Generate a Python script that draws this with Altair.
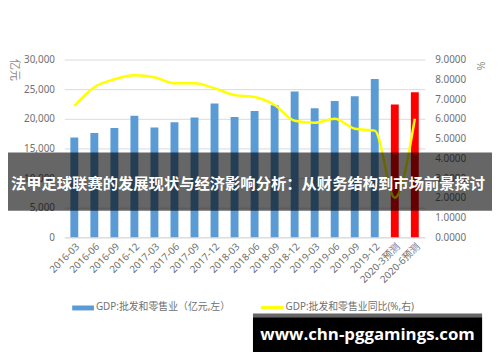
import altair as alt
import pandas as pd

periods = ["2016-03", "2016-06", "2016-09", "2016-12", "2017-03", "2017-06",
           "2017-09", "2017-12", "2018-03", "2018-06", "2018-09", "2018-12",
           "2019-03", "2019-06", "2019-09", "2019-12", "2020-3预测", "2020-6预测"]
gdp_values = [16850, 17600, 18450, 20500, 18550, 19400, 20200, 22600, 20300,
              21300, 22300, 24600, 21800, 23000, 23800, 26700, 22400, 24500]
kinds = ["实际"] * 16 + ["预测"] * 2
yoy_values = [6.65, 7.6, 8.0, 8.2, 8.1, 7.8, 7.8, 7.55, 7.2, 7.1, 6.7, 5.9,
              5.8, 6.0, 5.5, 5.4, 2.0, 6.0]

legend_bar = "GDP:批发和零售业（亿元,左）"
legend_line = "GDP:批发和零售业同比(%,右)"
title_text = "法甲足球联赛的发展现状与经济影响分析：从财务结构到市场前景探讨"
watermark = "www.chn-pggamings.com"

df = pd.DataFrame({"period": periods, "gdp": gdp_values, "kind": kinds, "yoy": yoy_values})
one = pd.DataFrame({"a": [0]})

FONT = "Noto Sans, Noto Sans CJK SC, sans-serif"
GRAY = "#707070"

xenc = alt.X("period:N", sort=periods, title=None,
             scale=alt.Scale(paddingInner=0, paddingOuter=0),
             axis=alt.Axis(labelAngle=-45, labelFontSize=10, labelColor=GRAY,
                           labelFont=FONT, ticks=False, domainColor="#d9d9d9",
                           labelPadding=4, grid=False))

base = alt.Chart(df)
bars = base.mark_bar(size=8).encode(
    x=xenc,
    y=alt.Y("gdp:Q", scale=alt.Scale(domain=[0, 30000], nice=False),
            axis=alt.Axis(orient="left", values=[0, 5000, 10000, 15000, 20000, 25000, 30000],
                          format=",.0f", labelFontSize=10, labelColor=GRAY, labelFont=FONT,
                          domain=False, ticks=False, gridColor="#d9d9d9", labelPadding=10,
                          title="亿元", titleAngle=90, titleFontSize=11, titleFont=FONT,
                          titleColor="#8a8a8a", titleFontWeight="normal",
                          titleX=-51, titleY=10, titleAlign="center", titleBaseline="middle")),
    color=alt.Color("kind:N", scale=alt.Scale(domain=["实际", "预测"], range=["#5b9bd5", "#ff0000"]),
                    legend=None),
)

line = base.mark_line(color="#ffff00", strokeWidth=2.5, interpolate="monotone").encode(
    x=alt.X("period:N", sort=periods),
    y=alt.Y("yoy:Q", scale=alt.Scale(domain=[0, 9], nice=False),
            axis=alt.Axis(orient="right", values=list(range(10)), format=".4f",
                          labelFontSize=10, labelColor=GRAY, labelFont=FONT,
                          domain=False, ticks=False, grid=False, labelPadding=10,
                          title="%", titleAngle=90, titleFontSize=11, titleFont=FONT,
                          titleColor="#8a8a8a", titleFontWeight="normal",
                          titleX=55, titleY=6, titleAlign="center", titleBaseline="middle")),
)

ov = alt.Chart(one)
leg_rect = ov.mark_rect(color="#5b9bd5").encode(
    x=alt.value(8), x2=alt.value(30), y=alt.value(249), y2=alt.value(254))
leg_text1 = ov.mark_text(text=legend_bar, align="left", baseline="middle", fontSize=10,
                         font=FONT, color="#707070").encode(x=alt.value(32), y=alt.value(251))
leg_rule = ov.mark_rule(color="#ffff00", strokeWidth=3).encode(
    x=alt.value(199), x2=alt.value(222), y=alt.value(251))
leg_text2 = ov.mark_text(text=legend_line, align="left", baseline="middle", fontSize=10,
                         font=FONT, color="#707070").encode(x=alt.value(224), y=alt.value(251))

band = ov.mark_rect(color="#000000", opacity=0.6).encode(
    x=alt.value(-57), x2=alt.value(435), y=alt.value(94), y2=alt.value(153))
title = ov.mark_text(text=title_text, align="center", baseline="middle", fontSize=15.5,
                     fontWeight="bold", font="Noto Sans CJK SC", color="white").encode(
    x=alt.value(186), y=alt.value(126))

wm_strip = ov.mark_rect(color="#666666").encode(
    x=alt.value(191), x2=alt.value(423), y=alt.value(257), y2=alt.value(261))
wm_box = ov.mark_rect(color="#000000").encode(
    x=alt.value(191), x2=alt.value(423), y=alt.value(261), y2=alt.value(296))
wm_text = ov.mark_text(text=watermark, align="center", baseline="middle", fontSize=17,
                       fontWeight="bold", font="Open Sans", color="white").encode(
    x=alt.value(307), y=alt.value(279))

chart = alt.layer(bars, line, leg_rect, leg_text1, leg_rule, leg_text2,
                  band, title, wm_strip, wm_box, wm_text).resolve_scale(
    y="independent"
).properties(
    width=365, height=180,
    padding={"left": 57, "top": 50, "right": 68, "bottom": 122},
    autosize=alt.AutoSizeParams(type="none"),
    background="white",
).configure_view(stroke=None)

chart.save("out.html", embed_options={"renderer": "svg", "actions": False})
